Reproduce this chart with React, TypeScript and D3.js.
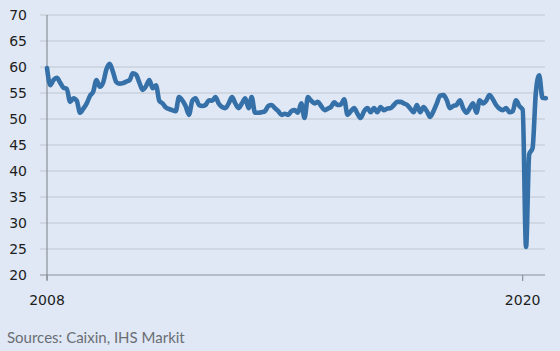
import React, { useEffect, useRef } from "react";
import * as d3 from "d3";

// monthly index readings, Jan 2008 .. Aug 2020
const startDate = new Date(2008, 0, 1);
const pmi = [
  59.8, 56.5, 57.5, 57.9, 57.0, 56.0, 55.8, 53.3, 54.0, 53.5, 51.2, 52.0, // 2008
  53.0, 54.5, 55.2, 57.5, 56.2, 57.0, 59.5, 60.6, 59.0, 57.1, 56.8, 56.9, // 2009
  57.2, 57.5, 58.8, 58.5, 57.0, 55.6, 56.3, 57.5, 55.9, 56.5, 53.5, 53.0, // 2010
  52.2, 51.9, 51.7, 51.5, 54.2, 53.6, 52.5, 50.8, 53.5, 54.0, 52.7, 52.5, // 2011
  52.7, 53.6, 53.5, 54.2, 53.0, 52.3, 52.1, 53.0, 54.2, 53.0, 52.1, 53.0, // 2012
  54.0, 52.1, 54.2, 51.2, 51.2, 51.3, 51.5, 52.5, 52.7, 52.1, 51.5, 50.8, // 2013
  51.0, 50.8, 51.5, 51.7, 51.2, 53.0, 50.2, 54.2, 53.5, 53.0, 53.3, 52.5, // 2014
  51.7, 52.0, 52.3, 53.2, 52.7, 52.8, 53.8, 50.8, 51.5, 52.1, 51.0, 50.2, // 2015
  51.5, 52.1, 51.3, 52.1, 51.3, 52.3, 51.7, 52.0, 52.1, 52.7, 53.3, 53.3, // 2016
  53.0, 52.7, 52.0, 51.3, 52.7, 51.3, 52.3, 51.5, 50.4, 51.5, 53.0, 54.5, // 2017
  54.6, 53.6, 52.1, 52.5, 52.7, 53.6, 52.1, 51.2, 52.1, 53.0, 51.2, 53.6, // 2018
  53.0, 53.6, 54.6, 53.8, 52.7, 52.0, 51.7, 52.1, 51.3, 51.5, 53.6, 52.5, // 2019
  51.8, 25.4, 43.2, 44.4, 55.0, 58.4, 54.1, 54.0, // 2020
];
const yTicks = [20, 25, 30, 35, 40, 45, 50, 55, 60, 65, 70];
const xTickYears = [2008, 2020];
const sourceNote = "Sources: Caixin, IHS Markit";

const W = 560;
const H = 351;

export default function App() {
  const ref = useRef<SVGSVGElement>(null);

  useEffect(() => {
    document.body.style.margin = "0";
    if (!ref.current) return;
    const svg = d3.select(ref.current);
    svg.selectAll("*").remove();

    const left = 47;
    const right = 545.8;
    const top = 15;
    const bottom = 275;

    const dates = pmi.map((_, i) => d3.timeMonth.offset(startDate, i));

    const x = d3
      .scaleTime()
      .domain([startDate, dates[dates.length - 1]])
      .range([left, right]);
    const y = d3.scaleLinear().domain([20, 70]).range([bottom, top]);

    svg.append("rect").attr("width", W).attr("height", H).attr("fill", "#dfe8f4");

    // gridlines + left ticks
    svg
      .append("g")
      .selectAll("line")
      .data(yTicks.filter((t) => t > 20))
      .join("line")
      .attr("x1", left - 7)
      .attr("x2", 545)
      .attr("y1", (d) => y(d))
      .attr("y2", (d) => y(d))
      .attr("stroke", "#c0c7d0")
      .attr("stroke-width", 1.2);

    svg
      .append("g")
      .selectAll("text")
      .data(yTicks)
      .join("text")
      .attr("x", 27)
      .attr("y", (d) => y(d))
      .attr("dy", "0.36em")
      .attr("text-anchor", "end")
      .attr("fill", "#1e1e1e")
      .style("font-family", "DejaVu Sans, Verdana, sans-serif")
      .style("font-size", "14px")
      .text((d) => d);

    // axes
    svg
      .append("line")
      .attr("x1", left)
      .attr("x2", left)
      .attr("y1", top)
      .attr("y2", bottom + 5)
      .attr("stroke", "#8a9098")
      .attr("stroke-width", 1.2);
    svg
      .append("line")
      .attr("x1", left - 7)
      .attr("x2", 545)
      .attr("y1", bottom)
      .attr("y2", bottom)
      .attr("stroke", "#8a9098")
      .attr("stroke-width", 1.2);

    const xt = svg
      .append("g")
      .selectAll("g")
      .data(xTickYears)
      .join("g")
      .attr("transform", (d) => `translate(${x(new Date(d, 0, 1))},0)`);
    xt.append("line")
      .attr("y1", bottom)
      .attr("y2", bottom + 6)
      .attr("stroke", "#8a9098")
      .attr("stroke-width", 1.2);
    xt.append("text")
      .attr("y", 305)
      .attr("text-anchor", "middle")
      .attr("fill", "#1e1e1e")
      .style("font-family", "DejaVu Sans, Verdana, sans-serif")
      .style("font-size", "14px")
      .text((d) => d);

    const line = d3
      .line<number>()
      .x((_, i) => x(dates[i]))
      .y((d) => y(d))
      .curve(d3.curveMonotoneX);

    svg
      .append("path")
      .datum(pmi)
      .attr("fill", "none")
      .attr("stroke", "#3570a8")
      .attr("stroke-width", 4.6)
      .attr("stroke-linejoin", "round")
      .attr("stroke-linecap", "round")
      .attr("d", line);

    svg
      .append("text")
      .attr("x", 7)
      .attr("y", 343)
      .attr("fill", "#6a6e74")
      .style("font-family", "Lato, sans-serif")
      .style("font-size", "15px")
      .text(sourceNote);
  }, []);

  return <svg ref={ref} width={W} height={H} style={{ display: "block" }} />;
}
